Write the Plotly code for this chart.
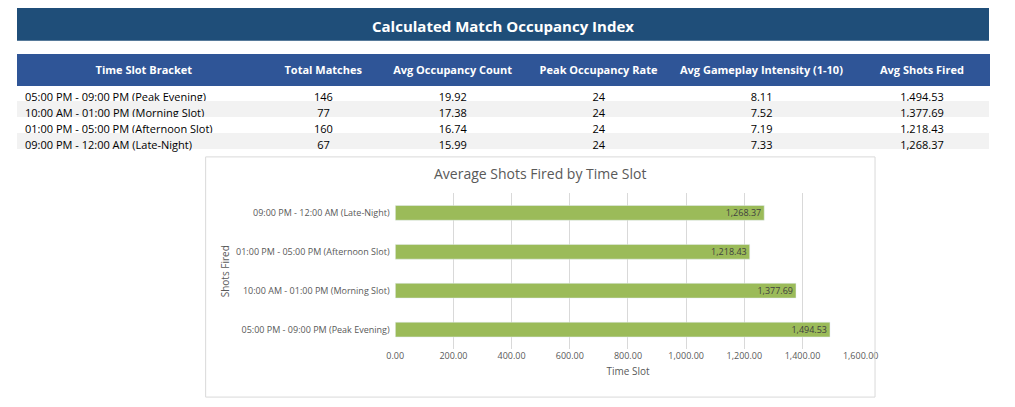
import plotly.graph_objects as go

# table data
slots = ["05:00 PM - 09:00 PM (Peak Evening)", "10:00 AM - 01:00 PM (Morning Slot)",
         "01:00 PM - 05:00 PM (Afternoon Slot)", "09:00 PM - 12:00 AM (Late-Night)"]
total_matches = [146, 77, 160, 67]
avg_occupancy = [19.92, 17.38, 16.74, 15.99]
peak_occupancy = [24, 24, 24, 24]
avg_intensity = [8.11, 7.52, 7.19, 7.33]
avg_shots = [1494.53, 1377.69, 1218.43, 1268.37]
headers = ["Time Slot Bracket", "Total Matches", "Avg Occupancy Count", "Peak Occupancy Rate",
           "Avg Gameplay Intensity (1-10)", "Avg Shots Fired"]

W, H = 1015, 407
def py(p):
    return 1 - p / H

font = "Segoe UI, Open Sans, Liberation Sans, sans-serif"
row_fill = ["white", "#F2F2F2", "white", "#F2F2F2"]

fig = go.Figure()

fig.add_trace(go.Table(
    domain=dict(x=[0, 1], y=[py(152), py(48)]),
    columnwidth=[265, 110, 160, 145, 195, 140],
    header=dict(values=[f"<b>{h}</b>" for h in headers], fill_color="#2F5597",
                line_color="#2F5597", font=dict(color="white", size=11, family=font),
                align="center", height=19),
    cells=dict(values=[slots, total_matches, [f"{v:.2f}" for v in avg_occupancy], peak_occupancy,
                       [f"{v:.2f}" for v in avg_intensity], [f"{v:,.2f}" for v in avg_shots]],
               fill_color=[row_fill] * 6, line_color="rgba(0,0,0,0)",
               font=dict(color="black", size=11, family=font),
               align=["left", "center", "center", "center", "center", "center"], height=16),
))

fig.add_trace(go.Bar(
    y=slots, x=avg_shots, orientation="h", marker_color="#9BBB59", width=0.38,
    text=[f"{v:,.2f}" for v in avg_shots], textposition="inside", insidetextanchor="end",
    constraintext="none",
    textfont=dict(size=9, color="#404040", family=font), cliponaxis=False,
))

fig.update_layout(
    width=W - 16, height=H - 16, margin=dict(l=0, r=0, t=0, b=0),
    paper_bgcolor="white", plot_bgcolor="white", showlegend=False,
    font=dict(family=font, color="#595959"),
    xaxis=dict(domain=[395 / W, 881 / W], range=[0, 1600], dtick=200, tickformat=",.2f",
               showgrid=True, gridcolor="#D9D9D9", zeroline=False, tickfont=dict(size=9),
               anchor="y", title=dict(text="Time Slot", font=dict(size=10), standoff=6)),
    yaxis=dict(domain=[py(355), py(193)], categoryorder="array", categoryarray=slots,
               tickfont=dict(size=9), ticksuffix="  ",
               title=dict(text="Shots Fired", font=dict(size=10), standoff=4)),
    shapes=[
        dict(type="rect", xref="paper", yref="paper", x0=0, x1=1, y0=py(34), y1=1,
             fillcolor="#1F4E79", line_width=0, layer="below"),
        dict(type="rect", xref="paper", yref="paper", x0=197 / W, x1=896 / W, y0=py(405), y1=py(155),
             fillcolor="rgba(0,0,0,0)", line=dict(color="#D9D9D9", width=1)),
    ],
    annotations=[
        dict(text="<b>Calculated Match Occupancy Index</b>", xref="paper", yref="paper",
             x=0.5, y=1, yanchor="top", yshift=-6, showarrow=False,
             font=dict(size=15, color="white", family=font)),
        dict(text="Average Shots Fired by Time Slot", xref="paper", yref="paper",
             x=546 / W, y=py(172), showarrow=False, font=dict(size=14, color="#595959", family=font)),
    ],
)

fig.write_html("out.html", config={"displayModeBar": False})
